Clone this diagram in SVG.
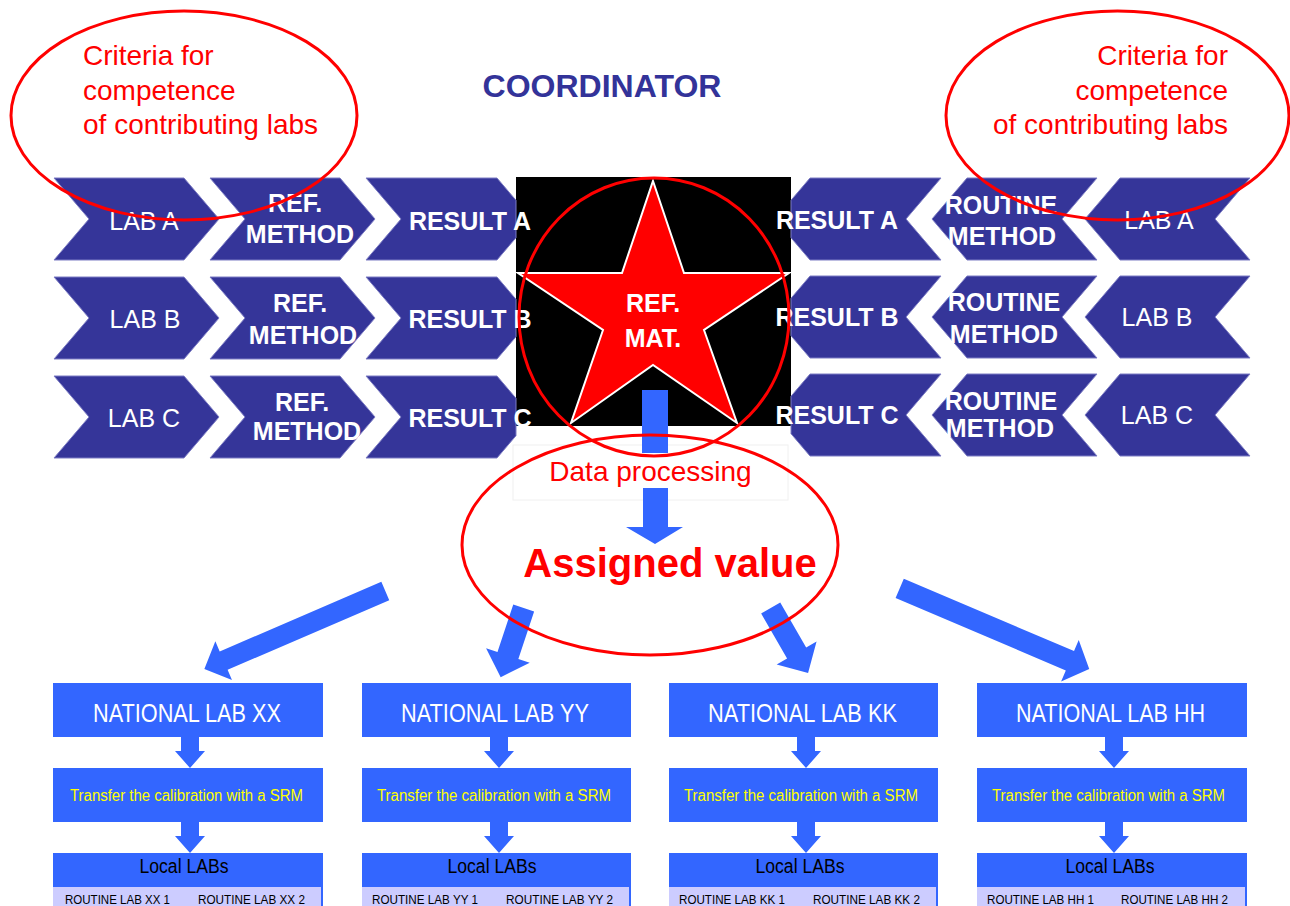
<svg xmlns="http://www.w3.org/2000/svg" width="1290" height="906" viewBox="0 0 1290 906">
<style>
.chev{fill:#353599;stroke:#7d7dc4;stroke-width:1}
.ct{font-family:"Liberation Sans",Arial,sans-serif;font-size:25px;fill:#ffffff;text-anchor:middle}
.b{font-weight:bold}
.red{fill:none;stroke:#ff0000;stroke-width:3}
.rt{font-family:"Liberation Sans",Arial,sans-serif;fill:#ff0000}
.blue{fill:#3366ff}
.nt{font-family:"Liberation Sans Narrow","Liberation Sans",Arial,sans-serif;text-anchor:middle}
.nat{font-size:25px;fill:#ffffff}
.tr{font-size:16px;fill:#ffff00}
.loc{font-size:20px;fill:#000000}
.rl{font-size:13px;fill:#000000;text-anchor:start}
.band{fill:#ccccff}
</style>
<rect width="1290" height="906" fill="#ffffff"/>

<text x="602" y="97" font-family="Liberation Sans, Arial, sans-serif" font-size="32" font-weight="bold" fill="#333399" text-anchor="middle">COORDINATOR</text>

<g id="refmat">
<rect x="516" y="177" width="275" height="249" fill="#000000"/>
<polygon points="653,181 684,273 789,273 704,330 737,423 653,365 571,423 603,330 518,273 622,273" fill="#ff0000" stroke="#ffffff" stroke-width="2"/>
<text class="ct b" x="653" y="312" font-size="27">REF.</text>
<text class="ct b" x="653" y="347" font-size="26">MAT.</text>
</g>

<g id="lab-a-left"><polygon class="chev" points="54,178 184,178 219,219 184,260 54,260 89,219"/><text class="ct" x="144" y="230">LAB A</text></g>
<g id="lab-b-left"><polygon class="chev" points="54,277 184,277 219,318 184,359 54,359 89,318"/><text class="ct" x="145" y="328">LAB B</text></g>
<g id="lab-c-left"><polygon class="chev" points="54,376 184,376 219,417 184,458 54,458 89,417"/><text class="ct" x="144" y="427">LAB C</text></g>

<g id="ref-method-a"><polygon class="chev" points="210,178 340,178 375,219 340,260 210,260 245,219"/><text class="ct b" x="295" y="212">REF.</text><text class="ct b" x="300" y="243">METHOD</text></g>
<g id="ref-method-b"><polygon class="chev" points="210,277 340,277 375,318 340,359 210,359 245,318"/><text class="ct b" x="300" y="312">REF.</text><text class="ct b" x="303" y="344">METHOD</text></g>
<g id="ref-method-c"><polygon class="chev" points="210,376 340,376 375,417 340,458 210,458 245,417"/><text class="ct b" x="302" y="411">REF.</text><text class="ct b" x="307" y="440">METHOD</text></g>

<g id="result-a-left"><polygon class="chev" points="366,178 497,178 516,200.3 516,237.7 497,260 366,260 401,219"/><text class="ct b" x="470" y="230">RESULT A</text></g>
<g id="result-b-left"><polygon class="chev" points="366,277 497,277 516,299.3 516,336.7 497,359 366,359 401,318"/><text class="ct b" x="470" y="328">RESULT B</text></g>
<g id="result-c-left"><polygon class="chev" points="366,376 497,376 516,398.3 516,435.7 497,458 366,458 401,417"/><text class="ct b" x="470" y="426.5">RESULT C</text></g>

<g id="result-a-right"><polygon class="chev" points="791,200.3 810,178 941,178 906,219 941,260 810,260 791,237.7"/><text class="ct b" x="837" y="229">RESULT A</text></g>
<g id="result-b-right"><polygon class="chev" points="791,298.3 810,276 941,276 906,317 941,358 810,358 791,335.7"/><text class="ct b" x="837" y="326">RESULT B</text></g>
<g id="result-c-right"><polygon class="chev" points="791,396.3 810,374 941,374 906,415 941,456 810,456 791,433.7"/><text class="ct b" x="837" y="423.5">RESULT C</text></g>

<g id="routine-method-a"><polygon class="chev" points="932,219 967,178 1097,178 1062,219 1097,260 967,260"/><text class="ct b" x="1001" y="214">ROUTINE</text><text class="ct b" x="1002" y="245">METHOD</text></g>
<g id="routine-method-b"><polygon class="chev" points="932,317 967,276 1097,276 1062,317 1097,358 967,358"/><text class="ct b" x="1004" y="311">ROUTINE</text><text class="ct b" x="1004" y="343">METHOD</text></g>
<g id="routine-method-c"><polygon class="chev" points="932,415 967,374 1097,374 1062,415 1097,456 967,456"/><text class="ct b" x="1001" y="410">ROUTINE</text><text class="ct b" x="1000" y="437">METHOD</text></g>

<g id="lab-a-right"><polygon class="chev" points="1085,219 1120,178 1250,178 1215,219 1250,260 1120,260"/><text class="ct" x="1159" y="229">LAB A</text></g>
<g id="lab-b-right"><polygon class="chev" points="1085,317 1120,276 1250,276 1215,317 1250,358 1120,358"/><text class="ct" x="1157" y="325.5">LAB B</text></g>
<g id="lab-c-right"><polygon class="chev" points="1085,415 1120,374 1250,374 1215,415 1250,456 1120,456"/><text class="ct" x="1157" y="423.5">LAB C</text></g>

<g id="data-processing">
<rect x="513" y="445" width="275" height="55" fill="none" stroke="#f0f0f0" stroke-width="1"/>
<text class="rt" x="650.5" y="481" font-size="28" text-anchor="middle">Data processing</text>
</g>

<g id="connectors">
<rect class="blue" x="642" y="390" width="26" height="63"/>
<polygon class="blue" points="643,488 668,488 668,527 683,527 655,544 626,527 643,527"/>
<polygon class="blue" transform="translate(385.3,591) rotate(156.7)" points="0,-10 176,-10 176,-21 197,0 176,21 176,10 0,10"/>
<polygon class="blue" transform="translate(523.7,608) rotate(108.4)" points="0,-11 50,-11 50,-23 73,0 50,23 50,11 0,11"/>
<polygon class="blue" transform="translate(770.7,608) rotate(60.1)" points="0,-11 52,-11 52,-23 75,0 52,23 52,11 0,11"/>
<polygon class="blue" transform="translate(899.7,588.3) rotate(23.06)" points="0,-10.5 185,-10.5 185,-22.5 206,0 185,22.5 185,10.5 0,10.5"/>
<g id="small-arrows" class="blue">
<polygon points="181,737 199,737 199,751 205,751 190,768 175,751 181,751"/>
<polygon points="181,822 199,822 199,836 205,836 190,853 175,836 181,836"/>
<polygon points="490,737 508,737 508,751 514,751 499,768 484,751 490,751"/>
<polygon points="490,822 508,822 508,836 514,836 499,853 484,836 490,836"/>
<polygon points="797,737 815,737 815,751 821,751 806,768 791,751 797,751"/>
<polygon points="797,822 815,822 815,836 821,836 806,853 791,836 797,836"/>
<polygon points="1105,737 1123,737 1123,751 1129,751 1114,768 1099,751 1105,751"/>
<polygon points="1105,822 1123,822 1123,836 1129,836 1114,853 1099,836 1105,836"/>
</g>
</g>

<g id="assigned-value">
<text class="rt" x="670" y="577" font-size="40" font-weight="bold" text-anchor="middle">Assigned value</text>
<ellipse class="red" cx="650" cy="545" rx="188" ry="110"/>
</g>
<ellipse class="red" cx="654" cy="317" rx="135" ry="139"/>

<g id="criteria-left">
<ellipse class="red" cx="184" cy="115.5" rx="173" ry="104.5"/>
<text class="rt" font-size="28"><tspan x="83" y="65">Criteria for</tspan><tspan x="83" y="100">competence</tspan><tspan x="83" y="134">of contributing labs</tspan></text>
</g>
<g id="criteria-right">
<ellipse class="red" cx="1117.5" cy="115.5" rx="171.5" ry="104.5"/>
<text class="rt" font-size="28" text-anchor="end"><tspan x="1228" y="65">Criteria for</tspan><tspan x="1228" y="100">competence</tspan><tspan x="1228" y="134">of contributing labs</tspan></text>
</g>

<g id="national-xx">
<rect class="blue" x="53" y="683" width="270" height="54"/>
<text class="nt nat" x="187" y="722" textLength="188" lengthAdjust="spacingAndGlyphs">NATIONAL LAB XX</text>
</g>
<g id="transfer-xx">
<rect class="blue" x="53" y="768" width="270" height="54"/>
<text class="nt tr" x="186.5" y="801" textLength="233" lengthAdjust="spacingAndGlyphs">Transfer the calibration with a SRM</text>
</g>
<g id="local-xx">
<rect class="blue" x="53" y="853" width="270" height="60"/>
<rect class="band" x="53" y="887" width="268" height="26"/>
<text class="nt loc" x="184" y="873" textLength="89" lengthAdjust="spacingAndGlyphs">Local LABs</text>
<text class="nt rl" x="65" y="904" textLength="105" lengthAdjust="spacingAndGlyphs">ROUTINE LAB XX 1</text>
<text class="nt rl" x="198" y="904" textLength="107" lengthAdjust="spacingAndGlyphs">ROUTINE LAB XX 2</text>
</g>

<g id="national-yy">
<rect class="blue" x="362" y="683" width="269" height="54"/>
<text class="nt nat" x="495" y="722" textLength="188" lengthAdjust="spacingAndGlyphs">NATIONAL LAB YY</text>
</g>
<g id="transfer-yy">
<rect class="blue" x="362" y="768" width="269" height="54"/>
<text class="nt tr" x="494" y="801" textLength="234" lengthAdjust="spacingAndGlyphs">Transfer the calibration with a SRM</text>
</g>
<g id="local-yy">
<rect class="blue" x="362" y="853" width="269" height="60"/>
<rect class="band" x="362" y="887" width="267" height="26"/>
<text class="nt loc" x="492" y="873" textLength="89" lengthAdjust="spacingAndGlyphs">Local LABs</text>
<text class="nt rl" x="372" y="904" textLength="106" lengthAdjust="spacingAndGlyphs">ROUTINE LAB YY 1</text>
<text class="nt rl" x="506" y="904" textLength="107" lengthAdjust="spacingAndGlyphs">ROUTINE LAB YY 2</text>
</g>

<g id="national-kk">
<rect class="blue" x="669" y="683" width="269" height="54"/>
<text class="nt nat" x="802.5" y="722" textLength="189" lengthAdjust="spacingAndGlyphs">NATIONAL LAB KK</text>
</g>
<g id="transfer-kk">
<rect class="blue" x="669" y="768" width="269" height="54"/>
<text class="nt tr" x="801" y="801" textLength="234" lengthAdjust="spacingAndGlyphs">Transfer the calibration with a SRM</text>
</g>
<g id="local-kk">
<rect class="blue" x="669" y="853" width="269" height="60"/>
<rect class="band" x="669" y="887" width="267" height="26"/>
<text class="nt loc" x="800" y="873" textLength="89" lengthAdjust="spacingAndGlyphs">Local LABs</text>
<text class="nt rl" x="679" y="904" textLength="106" lengthAdjust="spacingAndGlyphs">ROUTINE LAB KK 1</text>
<text class="nt rl" x="813" y="904" textLength="107" lengthAdjust="spacingAndGlyphs">ROUTINE LAB KK 2</text>
</g>

<g id="national-hh">
<rect class="blue" x="977" y="683" width="270" height="54"/>
<text class="nt nat" x="1110.5" y="722" textLength="189" lengthAdjust="spacingAndGlyphs">NATIONAL LAB HH</text>
</g>
<g id="transfer-hh">
<rect class="blue" x="977" y="768" width="270" height="54"/>
<text class="nt tr" x="1108.5" y="801" textLength="233" lengthAdjust="spacingAndGlyphs">Transfer the calibration with a SRM</text>
</g>
<g id="local-hh">
<rect class="blue" x="977" y="853" width="270" height="60"/>
<rect class="band" x="977" y="887" width="268" height="26"/>
<text class="nt loc" x="1110" y="873" textLength="89" lengthAdjust="spacingAndGlyphs">Local LABs</text>
<text class="nt rl" x="987" y="904" textLength="107" lengthAdjust="spacingAndGlyphs">ROUTINE LAB HH 1</text>
<text class="nt rl" x="1121" y="904" textLength="107" lengthAdjust="spacingAndGlyphs">ROUTINE LAB HH 2</text>
</g>
</svg>
